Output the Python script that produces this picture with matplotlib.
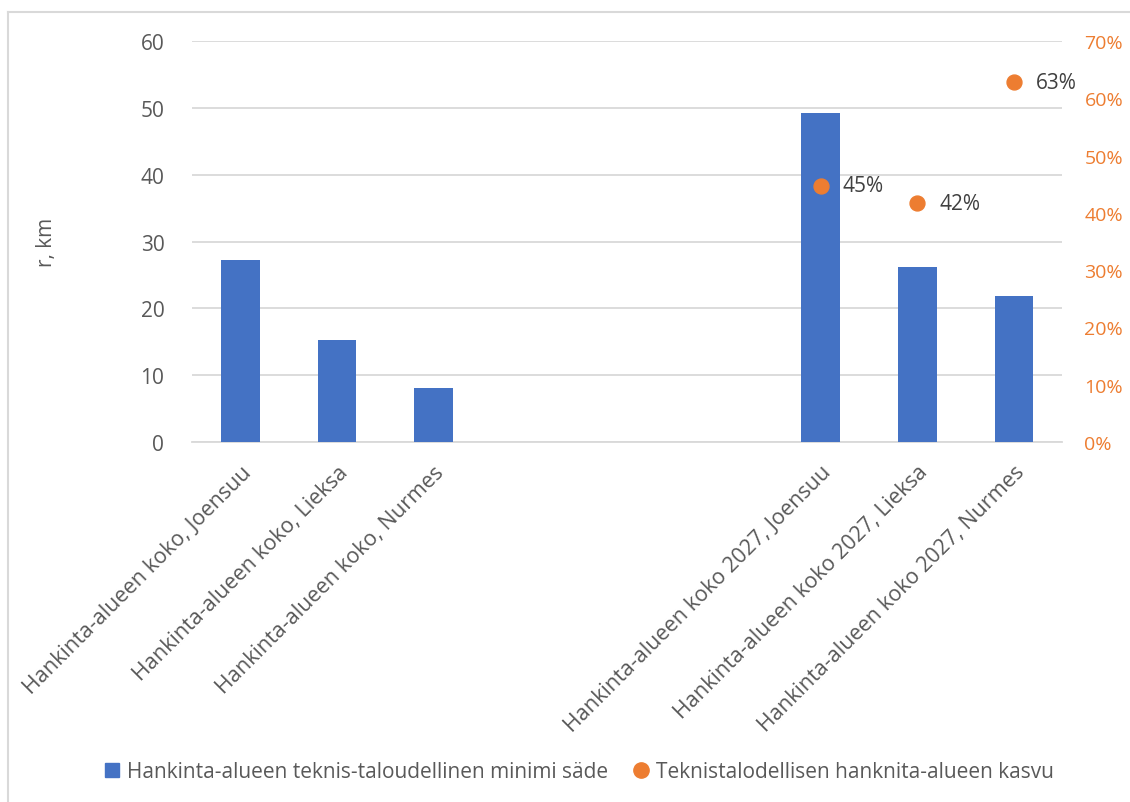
import numpy as np
import matplotlib
matplotlib.use('Agg')
import matplotlib.pyplot as plt
from matplotlib.ticker import PercentFormatter
from matplotlib.lines import Line2D

plt.rcParams['font.family'] = ['Open Sans', 'DejaVu Sans']

# data
categories = [
    "Hankinta-alueen koko, Joensuu",
    "Hankinta-alueen koko, Lieksa",
    "Hankinta-alueen koko, Nurmes",
    "", "", "",
    "Hankinta-alueen koko 2027, Joensuu",
    "Hankinta-alueen koko 2027, Lieksa",
    "Hankinta-alueen koko 2027, Nurmes",
]
radius_km = [27.2, 15.3, 8.1, np.nan, np.nan, np.nan, 49.2, 26.2, 21.9]
growth = [np.nan] * 6 + [0.447, 0.417, 0.628]

bar_label = "Hankinta-alueen teknis-taloudellinen minimi säde"
dot_label = "Teknistalodellisen hanknita-alueen kasvu"

blue = "#4472C4"
orange = "#ED7D31"
grey_text = "#595959"
grid_col = "#D9D9D9"

fig = plt.figure(figsize=(11.3, 8.03), dpi=100)
ax = fig.add_axes([0.170, 0.4483, 0.770, 0.4994])
x = np.arange(len(categories))

ax.bar(x, radius_km, width=0.4, color=blue, zorder=3, label=bar_label)
ax.set_xlim(-0.5, len(categories) - 0.5)
ax.set_ylim(0, 60)
ax.set_yticks(range(0, 61, 10))
ax.grid(axis='y', color=grid_col, linewidth=1.3, zorder=0)
for s in ['top', 'right', 'left']:
    ax.spines[s].set_visible(False)
ax.spines['bottom'].set_color(grid_col)
ax.spines['bottom'].set_linewidth(1.3)
ax.tick_params(axis='both', length=0, colors=grey_text, labelsize=15)
ax.tick_params(axis='y', pad=20)
ax.set_xticks(x)
ax.set_xticklabels(categories, rotation=45, ha='right', rotation_mode='anchor', fontsize=15.5)
ax.tick_params(axis='x', pad=14)
ax.set_ylabel("r, km", color=grey_text, fontsize=15, labelpad=60)

ax2 = ax.twinx()
ax2.scatter(x, growth, s=115, color=orange, zorder=4, label=dot_label)
ax2.set_ylim(0, 0.7)
ax2.set_yticks(np.arange(0, 0.71, 0.1))
ax2.yaxis.set_major_formatter(PercentFormatter(1.0, decimals=0))
ax2.tick_params(axis='y', length=0, colors=orange, labelsize=14, pad=16)
for s in ax2.spines.values():
    s.set_visible(False)
for xi, g in zip(x, growth):
    if not np.isnan(g):
        ax2.annotate(f"{g:.0%}", (xi, g), xytext=(16, 0), textcoords='offset points',
                     va='center', ha='left', color="#404040", fontsize=15)

handles = [
    Line2D([], [], marker='s', linestyle='none', color=blue, markersize=10),
    Line2D([], [], marker='o', linestyle='none', color=orange, markersize=11),
]
fig.legend(handles, [bar_label, dot_label], loc='center', bbox_to_anchor=(0.512, 0.038),
           ncol=2, frameon=False, fontsize=15, handlelength=0.8, handletextpad=0.3,
           columnspacing=1.2, labelcolor=grey_text)

# chart border (left and top visible)
fig.add_artist(Line2D([0.0075, 0.0075], [0, 0.984], color=grid_col, lw=1.5))
fig.add_artist(Line2D([0.0075, 1.0], [0.984, 0.984], color=grid_col, lw=1.5))

fig.savefig("out.png", dpi=100)
